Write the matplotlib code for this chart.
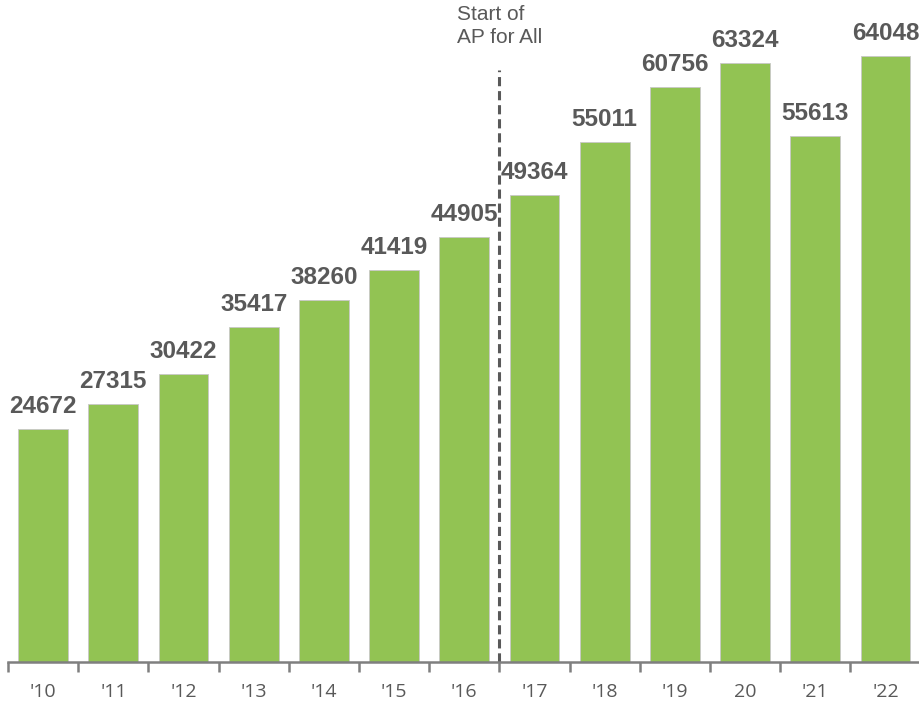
import matplotlib.pyplot as plt
import numpy as np

plt.rcParams['font.family'] = ['Liberation Sans', 'DejaVu Sans']

years = ["'10", "'11", "'12", "'13", "'14", "'15", "'16",
         "'17", "'18", "'19", "20", "'21", "'22"]
students = [24672, 27315, 30422, 35417, 38260, 41419, 44905,
            49364, 55011, 60756, 63324, 55613, 64048]
marker_label = 'Start of\nAP for All'

green = '#92C353'
grey = '#595959'

fig = plt.figure(figsize=(9.19, 7.02), dpi=100)
ax = fig.add_axes([8 / 919, 40 / 702, 912.6 / 919, 662 / 702])

x = np.arange(len(years))
ax.bar(x, students, width=0.71, color=green, edgecolor='#C8C8C8',
       linewidth=0.6)

for xi, v in zip(x, students):
    ax.annotate(str(v), (xi, v), xytext=(0, 8), textcoords='offset points',
                ha='center', va='bottom', fontsize=17.5, fontweight='bold',
                color=grey)

# policy start marker between '16 and '17
ax.vlines(6.5, 0, 62600, colors=grey, linestyles=(0, (3, 1.6)),
          linewidth=2.2)
ax.text(5.9, 69500, marker_label, ha='left', va='top', fontsize=15,
        color=grey, linespacing=1.3)

ax.set_xlim(-0.5, len(years) - 0.5)
ax.set_ylim(0, 70000)

for side in ['top', 'right', 'left']:
    ax.spines[side].set_visible(False)
ax.spines['bottom'].set_color('#7F7F7F')
ax.spines['bottom'].set_linewidth(1.8)

ax.set_yticks([])
ax.set_xticks(x)
ax.set_xticklabels(years, fontsize=14, color=grey,
                   fontfamily=['Open Sans', 'DejaVu Sans'])
ax.tick_params(axis='x', which='major', length=0, pad=15)
ax.set_xticks(np.arange(-0.5, len(years), 1), minor=True)
ax.tick_params(axis='x', which='minor', length=7, width=1.8,
               color='#7F7F7F', direction='out')

fig.savefig('out.png', dpi=100)
